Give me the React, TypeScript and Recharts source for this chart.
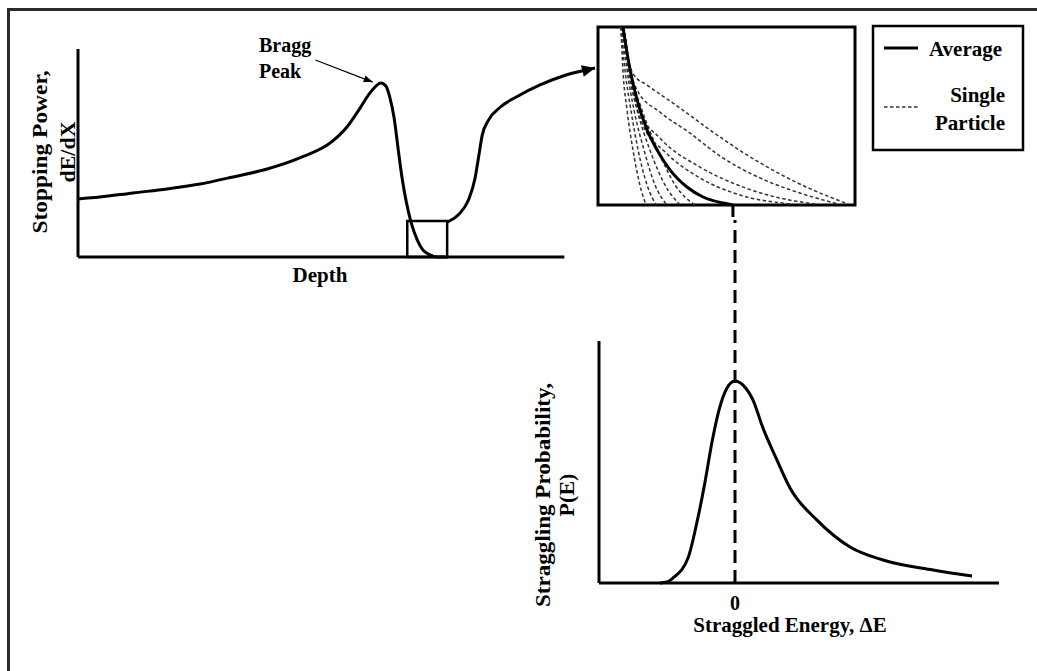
import React from "react";
import {
  ComposedChart,
  Line,
  ReferenceArea,
  ReferenceLine,
  XAxis,
  YAxis,
} from "recharts";

const FONT = '"Liberation Serif", "Times New Roman", serif';

// Bragg curve (depth vs stopping power)
const braggDepth = [0, 4.5, 11.3, 18.3, 25.1, 31.9, 38.9, 45.6, 52.4, 55.3, 58.0, 60.0, 62.3, 63.3, 64.1, 65.0, 65.8, 66.6, 67.5, 68.5, 69.7, 70.9, 72.4, 73.8, 75.9];
const braggPower = [27.9, 28.8, 30.8, 32.7, 35.1, 38.5, 42.3, 47.6, 55.8, 62.5, 71.6, 78.8, 83.7, 82.2, 76.9, 66.8, 52.4, 38.5, 26.5, 16.5, 8.5, 3.4, 1.0, 0, 0];

// zoom box around the end of range
const zoomBox = { x1: 67.7, x2: 75.9, y1: 0, y2: 17.3 };

// curved arrow from the zoom box to the inset
const zoomArrowX = [75.9, 78.3, 80.3, 81.6, 82.4, 83.1, 84.4, 86.8, 90.5, 95.0, 100.5, 106.3];
const zoomArrowY = [16.8, 20.5, 27.5, 37.5, 48.5, 58.5, 65.8, 72.0, 77.4, 82.7, 87.6, 90.9];

// "Bragg Peak" pointer
const peakPointerX = [48.8, 60.6];
const peakPointerY = [94.7, 84.1];

// inset: end-of-range curves
const avgX = [9.7, 12.5, 15.2, 19.1, 23.0, 28.0, 34.6, 40.9, 48.6, 52.5];
const avgY = [100, 75.8, 59.0, 42.1, 30.9, 19.7, 10.1, 4.5, 1.1, 0];

const steepY = [100, 75.8, 53.4, 30.9, 11.2, 0];
const steep1X = [8.9, 9.7, 11.3, 13.6, 16.3, 18.7];
const steep2X = [8.9, 10.5, 12.8, 15.6, 19.1, 22.6];
const steep3X = [9.3, 11.3, 14.0, 17.9, 22.2, 26.8];
const steep4X = [9.3, 11.7, 15.2, 20.2, 26.1, 31.9];
const steep5X = [9.7, 12.5, 17.1, 23.3, 30.0, 37.7];

const wide1X = [10.1, 11.7, 14.0, 19.1, 31.9, 44.7, 58.0, 70.8, 83.7, 97.3];
const wide1Y = [100, 82.6, 73.0, 67.4, 54.5, 41.0, 28.1, 17.4, 8.4, 0.6];
const wide2X = [10.1, 12.1, 15.2, 24.1, 35.8, 47.5, 63.0, 78.6, 93.4];
const wide2Y = [100, 79.2, 64.6, 52.2, 40.4, 27.5, 15.2, 6.7, 0.6];
const wide3X = [10.1, 12.8, 16.3, 24.1, 39.7, 55.3, 70.8, 84.4];
const wide3Y = [100, 73.0, 52.2, 37.6, 21.3, 10.7, 3.9, 0.6];
const wide4X = [10.1, 13.2, 17.5, 26.1, 39.7, 55.3, 74.7];
const wide4Y = [100, 67.4, 44.9, 29.8, 15.2, 5.6, 0.6];

// straggling distribution
const energyX = [-7.5, -6.8, -6.2, -4.7, -3.8, -3.0, -2.3, -1.6, -0.8, 0, 0.8, 1.8, 2.8, 4.2, 5.5, 8.2, 11.5, 14.8, 19.8, 23.7];
const probY = [0, 0.4, 2.1, 10.3, 25.2, 41.7, 58.3, 71.5, 80.6, 83.5, 81.8, 75.6, 64.0, 50.8, 39.3, 26.0, 14.9, 9.5, 5.4, 2.9];
const energyTicks = [0];

const zip = (xs: number[], ys: number[]) => xs.map((x, i) => ({ x, y: ys[i] }));

const braggRows = zip(braggDepth, braggPower);
const zoomArrowRows = zip(zoomArrowX, zoomArrowY);
const peakPointerRows = zip(peakPointerX, peakPointerY);
const avgRows = zip(avgX, avgY);
const singleRows = [
  zip(steep1X, steepY),
  zip(steep2X, steepY),
  zip(steep3X, steepY),
  zip(steep4X, steepY),
  zip(steep5X, steepY),
  zip(wide1X, wide1Y),
  zip(wide2X, wide2Y),
  zip(wide3X, wide3Y),
  zip(wide4X, wide4Y),
];
const strRows = zip(energyX, probY);

function arrowHead(count: number, len: number, half: number, fallback: number) {
  return (props: any) => {
    const { cx, cy, index, points } = props;
    if (index !== count - 1) return <g key={`d-${index}`} />;
    const prev = points && points[index - 1];
    const a = prev ? Math.atan2(cy - prev.y, cx - prev.x) : fallback;
    const bx = cx - len * Math.cos(a);
    const by = cy - len * Math.sin(a);
    const nx = -Math.sin(a) * half;
    const ny = Math.cos(a) * half;
    return (
      <polygon
        key={`d-${index}`}
        points={`${cx},${cy} ${bx + nx},${by + ny} ${bx - nx},${by - ny}`}
        fill="#000"
      />
    );
  };
}

const txt = { fontFamily: FONT, fontWeight: 700, fill: "#000" } as const;
const DASH_COLOR = "#333";

export default function App() {
  return (
    <div
      style={{
        position: "absolute",
        left: 0,
        top: 0,
        width: 1037,
        height: 671,
        overflow: "hidden",
        background: "#fff",
      }}
    >
      <div
        style={{
          position: "absolute",
          left: 7,
          top: 8,
          width: 1100,
          height: 800,
          border: "3px solid #2b2b2b",
        }}
      />

      {/* Bragg curve */}
      <div style={{ position: "absolute", left: 0, top: 0 }}>
        <ComposedChart
          width={640}
          height={290}
          margin={{ top: 49, left: 78, right: 27, bottom: 33 }}
        >
          <XAxis type="number" dataKey="x" domain={[0, 110]} hide />
          <YAxis type="number" domain={[0, 100]} hide />
          <ReferenceLine segment={[{ x: 0, y: 0 }, { x: 0, y: 100 }]} stroke="#000" strokeWidth={3} />
          <ReferenceLine segment={[{ x: 0, y: 0 }, { x: 100, y: 0 }]} stroke="#000" strokeWidth={3} />
          <Line
            data={braggRows}
            dataKey="y"
            type="monotone"
            stroke="#000"
            strokeWidth={3}
            dot={false}
            activeDot={false}
            isAnimationActive={false}
          />
          <ReferenceArea
            x1={zoomBox.x1}
            x2={zoomBox.x2}
            y1={zoomBox.y1}
            y2={zoomBox.y2}
            fill="none"
            fillOpacity={0}
            stroke="#000"
            strokeWidth={2.5}
          />
          <Line
            data={zoomArrowRows}
            dataKey="y"
            type="monotone"
            stroke="#000"
            strokeWidth={3}
            dot={arrowHead(zoomArrowRows.length, 13, 6, -0.25)}
            activeDot={false}
            isAnimationActive={false}
          />
          <Line
            data={peakPointerRows}
            dataKey="y"
            type="linear"
            stroke="#000"
            strokeWidth={1.2}
            dot={arrowHead(peakPointerRows.length, 9, 3.5, 0.36)}
            activeDot={false}
            isAnimationActive={false}
          />
        </ComposedChart>
      </div>

      {/* inset: end of range */}
      <div style={{ position: "absolute", left: 560, top: 0 }}>
        <ComposedChart
          width={320}
          height={240}
          margin={{ top: 27, left: 38, right: 25, bottom: 15 }}
        >
          <XAxis
            type="number"
            dataKey="x"
            domain={[0, 100]}
            ticks={[avgX[avgX.length - 1]]}
            axisLine={false}
            tickLine={{ stroke: "#000", strokeWidth: 3 }}
            tickSize={12}
            tickFormatter={() => ""}
            height={20}
          />
          <YAxis type="number" domain={[0, 100]} hide />
          {singleRows.map((rows, i) => (
            <Line
              key={i}
              data={rows}
              dataKey="y"
              type="monotone"
              stroke={DASH_COLOR}
              strokeWidth={1.5}
              strokeDasharray="3.5 2.5"
              dot={false}
              activeDot={false}
              isAnimationActive={false}
            />
          ))}
          <Line
            data={avgRows}
            dataKey="y"
            type="monotone"
            stroke="#000"
            strokeWidth={3}
            dot={false}
            activeDot={false}
            isAnimationActive={false}
          />
          <ReferenceArea
            x1={0}
            x2={100}
            y1={0}
            y2={100}
            fill="none"
            fillOpacity={0}
            stroke="#000"
            strokeWidth={3}
          />
        </ComposedChart>
      </div>

      {/* straggling distribution */}
      <div style={{ position: "absolute", left: 540, top: 200 }}>
        <ComposedChart
          width={480}
          height={440}
          margin={{ top: 8, left: 59, right: 21, bottom: 27 }}
        >
          <XAxis
            type="number"
            dataKey="x"
            domain={[-13.6, 26.4]}
            ticks={energyTicks}
            axisLine={{ stroke: "#000", strokeWidth: 3 }}
            tickLine={false}
            tickMargin={7}
            tick={{ ...txt, fontSize: 20 }}
            height={30}
          />
          <YAxis type="number" domain={[0, 155]} hide />
          <ReferenceLine segment={[{ x: -13.6, y: 0 }, { x: -13.6, y: 100 }]} stroke="#000" strokeWidth={3} />
          <ReferenceLine
            segment={[{ x: 0, y: 0 }, { x: 0, y: 150 }]}
            stroke="#000"
            strokeWidth={3}
            strokeDasharray="13 7"
          />
          <Line
            data={strRows}
            dataKey="y"
            type="monotone"
            stroke="#000"
            strokeWidth={3}
            dot={false}
            activeDot={false}
            isAnimationActive={false}
          />
        </ComposedChart>
      </div>

      {/* text and legend */}
      <svg
        width={1037}
        height={671}
        style={{ position: "absolute", left: 0, top: 0, pointerEvents: "none" }}
      >
        <text x={259} y={52} fontSize={20} {...txt}>Bragg</text>
        <text x={259} y={78} fontSize={20} {...txt}>Peak</text>

        <text transform="translate(47,152) rotate(-90)" textAnchor="middle" fontSize={22} textLength={163} lengthAdjust="spacingAndGlyphs" {...txt}>
          Stopping Power,
        </text>
        <text transform="translate(75,152) rotate(-90)" textAnchor="middle" fontSize={22} {...txt}>
          dE/dX
        </text>
        <text x={320} y={282} textAnchor="middle" fontSize={21} {...txt}>Depth</text>

        <text transform="translate(550,495) rotate(-90)" textAnchor="middle" fontSize={22} textLength={224} lengthAdjust="spacingAndGlyphs" {...txt}>
          Straggling Probability,
        </text>
        <text transform="translate(574,495) rotate(-90)" textAnchor="middle" fontSize={22} {...txt}>
          P(E)
        </text>
        <text x={790} y={632} textAnchor="middle" fontSize={21} {...txt}>Straggled Energy, ΔE</text>

        <rect x={873} y={26} width={150} height={124} fill="#fff" stroke="#000" strokeWidth={2.5} />
        <line x1={884} x2={918} y1={48} y2={48} stroke="#000" strokeWidth={3} />
        <text x={929} y={56} fontSize={21} {...txt}>Average</text>
        <line x1={884} x2={918} y1={107} y2={107} stroke={DASH_COLOR} strokeWidth={1.5} strokeDasharray="3.5 2.5" />
        <text x={1005} y={102} textAnchor="end" fontSize={21} {...txt}>Single</text>
        <text x={1005} y={130} textAnchor="end" fontSize={21} {...txt}>Particle</text>
      </svg>
    </div>
  );
}
